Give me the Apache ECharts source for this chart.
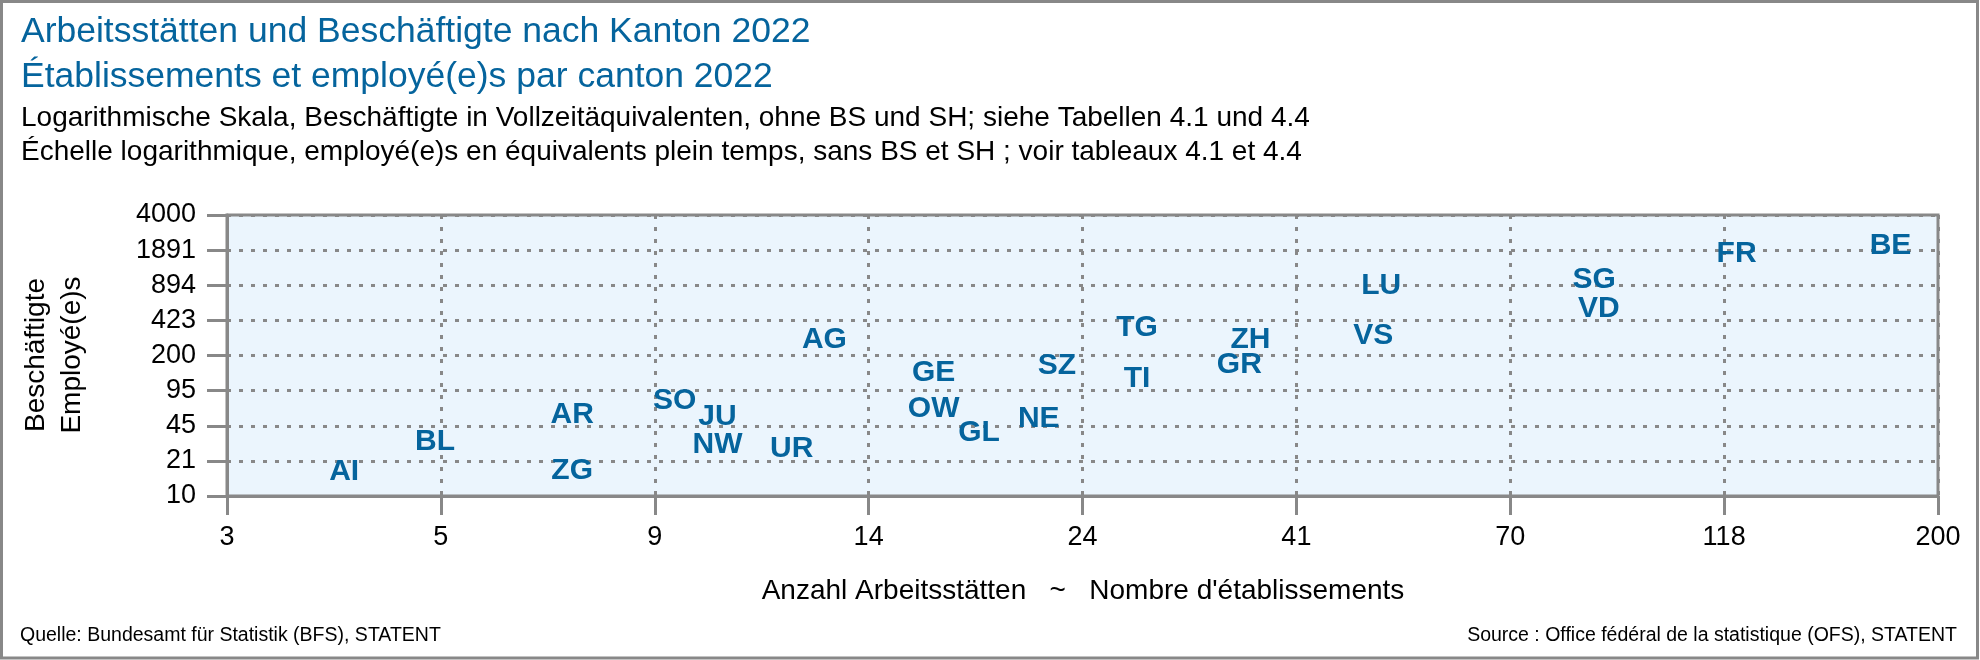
<!DOCTYPE html>
<html>
<head>
<meta charset="utf-8">
<script src="https://cdn.jsdelivr.net/npm/echarts@6/dist/echarts.min.js"></script>
<style>
html,body{margin:0;padding:0;background:#fff;}
#chart{width:1980px;height:660px;}
</style>
</head>
<body>
<div id="chart"></div>
<script>
// ---- Data ----
const cantons = ['AI','BL','AR','ZG','SO','JU','NW','UR','AG','GE','OW','GL','NE','SZ','TG','TI','ZH','GR','LU','VS','SG','VD','FR','BE'];
const establishments = [4.0, 5.0, 7.0, 7.0, 9.0, 10.0, 10.0, 12.0, 13.0, 17.0, 17.0, 19.0, 22.0, 23.0, 28.0, 28.0, 37.0, 36.0, 51.0, 50.0, 86.0, 87.0, 122, 178];
const employees = [17.8, 34, 60, 18.4, 82, 58, 32, 29, 300, 147, 68, 41.5, 55.6, 170, 384, 129, 300, 175, 942, 325, 1070, 579, 1849, 2214];
const xTickLabels = ['3','5','9','14','24','41','70','118','200'];
const yTickLabels = ['10','21','45','95','200','423','894','1891','4000'];

// log scale helpers: ticks are evenly spaced in log space between first and last labels
const xMin = 3, xMax = 200, yMin = 10, yMax = 4000, nInt = 8;
const xStep = Math.log(xMax / xMin) / nInt;
const yStep = Math.log(yMax / yMin) / nInt;
const xPos = v => Math.log(v / xMin) / xStep;
const yPos = v => Math.log(v / yMin) / yStep;

const blue = '#05649d';
const font = 'Liberation Sans, Arial, sans-serif';
const grey = '#888888';

const chart = echarts.init(document.getElementById('chart'), null, {renderer:'canvas'});
const option = {
  animation: false,
  backgroundColor: '#ffffff',
  grid: {
    left: 227, right: 42, top: 215, bottom: 164,
    show: true, backgroundColor: '#ebf5fd', borderColor: grey, borderWidth: 3
  },
  xAxis: {
    type: 'value', min: 0, max: nInt, interval: 1,
    axisLine: {show: true, onZero: false, lineStyle: {color: grey, width: 3}},
    axisTick: {show: true, length: 19, lineStyle: {color: grey, width: 3}},
    axisLabel: {formatter: v => xTickLabels[Math.round(v)], fontSize: 27, color: '#000', margin: 28, fontFamily: font},
    splitLine: {show: true, lineStyle: {color: grey, type: [4, 8], width: 3}}
  },
  yAxis: {
    type: 'value', min: 0, max: nInt, interval: 1,
    axisLine: {show: true, onZero: false, lineStyle: {color: grey, width: 3}},
    axisTick: {show: true, length: 20, lineStyle: {color: grey, width: 3}},
    axisLabel: {formatter: v => yTickLabels[Math.round(v)], fontSize: 27, color: '#000', margin: 31, fontFamily: font},
    splitLine: {show: true, lineStyle: {color: grey, type: [4, 8], width: 3}}
  },
  series: [{
    type: 'scatter',
    symbolSize: 1,
    itemStyle: {color: 'rgba(0,0,0,0)', opacity: 1},
    emphasis: {disabled: true},
    data: cantons.map((c, i) => [xPos(establishments[i]), yPos(employees[i]), c]),
    label: {
      show: true, position: 'inside', offset: [0, 3],
      formatter: p => p.value[2],
      fontSize: 30, fontWeight: 'bold', color: blue, fontFamily: font,
      textBorderWidth: 0, opacity: 1
    },
    z: 5
  }],
  graphic: [
    {type: 'rect', shape: {x: 1.5, y: 1.5, width: 1976, height: 656.5}, style: {fill: 'none', stroke: grey, lineWidth: 3}, silent: true},
    {type: 'text', x: 21, y: 32.5, style: {text: 'Arbeitsstätten und Beschäftigte nach Kanton 2022', fontSize: 35.5, fontFamily: font, fill: blue, textAlign: 'left', textVerticalAlign: 'middle'}},
    {type: 'text', x: 21, y: 77.5, style: {text: 'Établissements et employé(e)s par canton 2022', fontSize: 35.5, fontFamily: font, fill: blue, textAlign: 'left', textVerticalAlign: 'middle'}},
    {type: 'text', x: 21, y: 118, style: {text: 'Logarithmische Skala, Beschäftigte in Vollzeitäquivalenten, ohne BS und SH; siehe Tabellen 4.1 und 4.4', fontSize: 28, fontFamily: font, fill: '#000', textAlign: 'left', textVerticalAlign: 'middle'}},
    {type: 'text', x: 21, y: 152, style: {text: 'Échelle logarithmique, employé(e)s en équivalents plein temps, sans BS et SH ; voir tableaux 4.1 et 4.4', fontSize: 28, fontFamily: font, fill: '#000', textAlign: 'left', textVerticalAlign: 'middle'}},
    {type: 'text', x: 1083, y: 591, style: {text: "Anzahl Arbeitsstätten   ~   Nombre d'établissements", fontSize: 28, fontFamily: font, fill: '#000', textAlign: 'center', textVerticalAlign: 'middle'}},
    {type: 'text', x: 36, y: 355, rotation: Math.PI / 2, style: {text: 'Beschäftigte', fontSize: 28, fontFamily: font, fill: '#000', textAlign: 'center', textVerticalAlign: 'middle'}},
    {type: 'text', x: 72, y: 355, rotation: Math.PI / 2, style: {text: 'Employé(e)s', fontSize: 28, fontFamily: font, fill: '#000', textAlign: 'center', textVerticalAlign: 'middle'}},
    {type: 'text', x: 20, y: 636, style: {text: 'Quelle: Bundesamt für Statistik (BFS), STATENT', fontSize: 19.5, fontFamily: font, fill: '#000', textAlign: 'left', textVerticalAlign: 'middle'}},
    {type: 'text', x: 1957, y: 636, style: {text: 'Source : Office fédéral de la statistique (OFS), STATENT', fontSize: 19.5, fontFamily: font, fill: '#000', textAlign: 'right', textVerticalAlign: 'middle'}}
  ]
};
chart.setOption(option);
</script>
</body>
</html>
